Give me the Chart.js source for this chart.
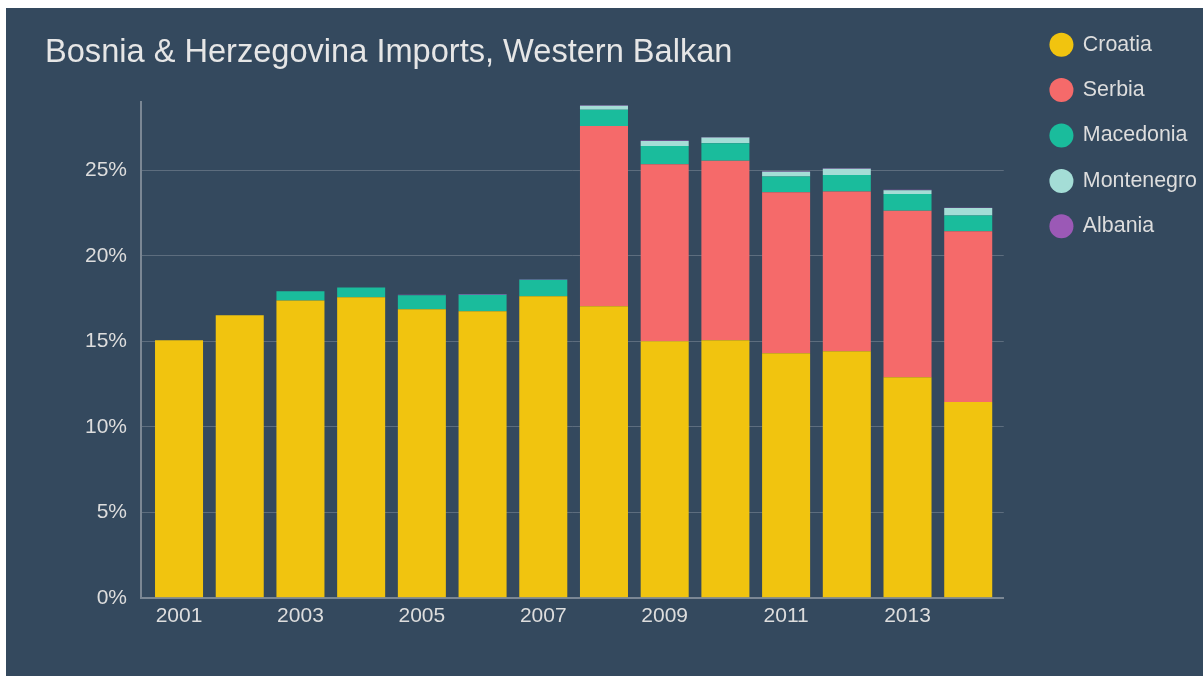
<!DOCTYPE html>
<html>
<head>
<meta charset="utf-8">
<script src="https://cdn.jsdelivr.net/npm/chart.js@4/dist/chart.umd.min.js"></script>
<style>
  html, body { margin: 0; padding: 0; background: #ffffff; }
  #wrap { position: absolute; left: 6px; top: 8px; width: 1197px; height: 668px; background: #34495e; }
  canvas { display: block; }
</style>
</head>
<body>
<div id="wrap"><canvas id="c" width="1197" height="668"></canvas></div>
<script>
// ---- Data (percent of Bosnia & Herzegovina imports) ----
const years = [2001, 2002, 2003, 2004, 2005, 2006, 2007, 2008, 2009, 2010, 2011, 2012, 2013, 2014];
const xTickYears = [2001, 2003, 2005, 2007, 2009, 2011, 2013];
const croatia    = [15.07, 16.53, 17.40, 17.58, 16.88, 16.76, 17.64, 17.06, 15.01, 15.07, 14.31, 14.43, 12.91, 11.45];
const serbia     = [0, 0, 0, 0, 0, 0, 0, 10.55, 10.36, 10.50, 9.42, 9.34, 9.74, 9.99];
const macedonia  = [0, 0, 0.53, 0.58, 0.82, 0.97, 0.97, 0.94, 1.07, 1.03, 0.92, 0.96, 0.97, 0.93];
const montenegro = [0, 0, 0, 0, 0, 0, 0, 0.24, 0.29, 0.33, 0.27, 0.37, 0.23, 0.43];
const albania    = [0, 0, 0, 0, 0.03, 0.05, 0.03, 0.03, 0.03, 0.03, 0.03, 0.03, 0.02, 0.02];
const yTickValues = [0, 5, 10, 15, 20, 25];

Chart.defaults.font.family = '"Liberation Sans", Arial, sans-serif';
Chart.defaults.color = '#dddddd';

const ds = (label, data, color) => ({
  label, data, backgroundColor: color, borderWidth: 0,
  categoryPercentage: 0.791, barPercentage: 1.0
});

new Chart(document.getElementById('c'), {
  type: 'bar',
  data: {
    labels: years,
    datasets: [
      ds('Croatia', croatia, '#f1c40f'),
      ds('Serbia', serbia, '#f56a6a'),
      ds('Macedonia', macedonia, '#1abc9c'),
      ds('Montenegro', montenegro, '#a4ddd6'),
      ds('Albania', albania, '#9b59b6')
    ]
  },
  options: {
    responsive: false,
    animation: false,
    layout: { padding: { top: 2, left: 39, right: -4, bottom: 41 } },
    plugins: {
      tooltip: { enabled: false },
      title: {
        display: true,
        text: 'Bosnia & Herzegovina Imports, Western Balkan',
        align: 'start',
        color: '#e6e6e6',
        font: { size: 32.6, weight: 'normal' },
        padding: { top: 23, bottom: 30 }
      },
      legend: {
        position: 'right',
        align: 'start',
        labels: {
          usePointStyle: true,
          pointStyle: 'circle',
          boxHeight: 17,
          padding: 24,
          color: '#dddddd',
          font: { size: 21.4 }
        }
      }
    },
    scales: {
      x: {
        type: 'linear',
        stacked: true,
        offset: false,
        bounds: 'data',
        min: 2000.3735,
        max: 2014.585,
        afterBuildTicks: (s) => { s.ticks = xTickYears.map(v => ({ value: v })); },
        grid: { display: false, drawTicks: false, offset: false },
        border: { display: true, color: '#7b8794', width: 2 },
        ticks: {
          padding: 6,
          color: '#dddddd',
          font: { size: 21 },
          callback: (v) => String(v)
        }
      },
      y: {
        stacked: true,
        min: 0,
        max: 29,
        afterFit: (s) => { s.width = 96; },
        afterBuildTicks: (s) => { s.ticks = yTickValues.map(v => ({ value: v })); },
        grid: { color: '#5d6d7e', lineWidth: 1, drawTicks: false },
        border: { display: true, color: '#7b8794', width: 2 },
        ticks: {
          padding: 14,
          color: '#dddddd',
          font: { size: 21 },
          callback: (v) => v + '%'
        }
      },
      yR: {
        type: 'linear',
        position: 'right',
        display: true,
        afterFit: (s) => { s.width = 23; },
        grid: { display: false, drawTicks: false },
        border: { display: false },
        ticks: { display: false }
      }
    }
  }
});
</script>
</body>
</html>
